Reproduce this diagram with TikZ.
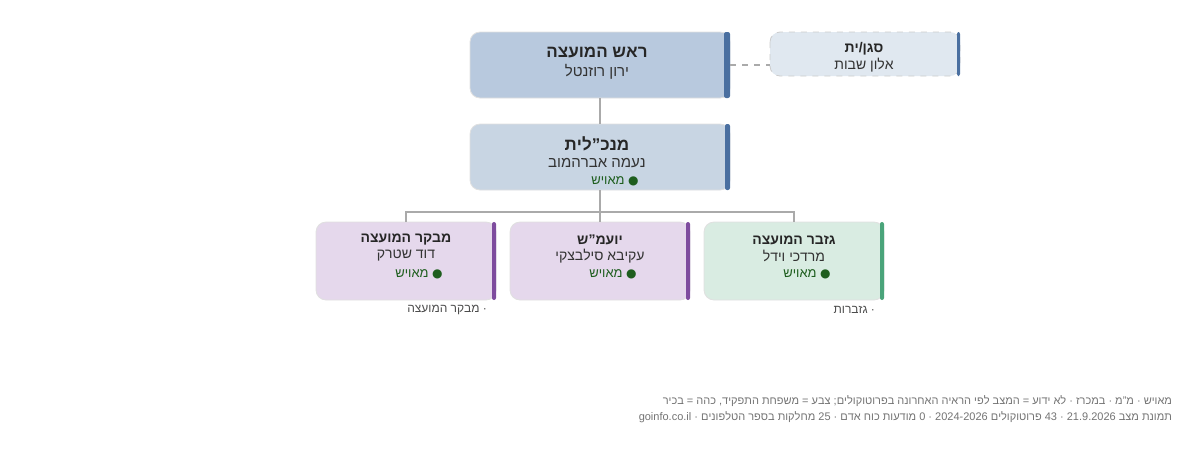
\documentclass[tikz,border=0pt]{standalone}
\usepackage{fontspec}
\setmainfont{Liberation Sans}
\newfontfamily\symfont{DejaVu Sans}
\TeXXeTstate=1
\newcommand{\heb}[1]{\beginR#1\endR}
\newcommand{\ltr}[1]{\beginL#1\endL}
\newcommand{\okdot}{{\symfont\fontsize{6}{7}\selectfont ●}}
\definecolor{headfill}{HTML}{B8C9DE}
\definecolor{ceofill}{HTML}{C8D5E3}
\definecolor{depfill}{HTML}{E0E8F0}
\definecolor{bluebar}{HTML}{4A6FA0}
\definecolor{purfill}{HTML}{E5D8EC}
\definecolor{purbar}{HTML}{7E4C9E}
\definecolor{grnfill}{HTML}{D9ECE2}
\definecolor{grnbar}{HTML}{4AA47A}
\definecolor{okgreen}{HTML}{1E5E1E}
\definecolor{linegray}{HTML}{AAAAAA}
\usetikzlibrary{positioning}
\tikzset{%
  unit/.style    = {draw=black!12, rounded corners=5pt, inner sep=0pt},%
  bar/.style     = {rounded corners=1pt},%
  roletxt/.style = {font=\bfseries\fontsize{8.5}{10}\selectfont, text=black!85},%
  persontxt/.style = {font=\fontsize{7.5}{9}\selectfont, text=black!80},%
  srole/.style   = {font=\bfseries\fontsize{7}{8}\selectfont, text=black!85},%
  sperson/.style = {font=\fontsize{7}{8}\selectfont, text=black!80},%
  status/.style  = {font=\fontsize{6.5}{8}\selectfont, text=okgreen},%
  note/.style    = {font=\fontsize{6}{7}\selectfont, text=black!70, anchor=east},%
  foot/.style    = {font=\fontsize{5.5}{7}\selectfont, text=black!55, anchor=east},%
  link/.style    = {draw=linegray, line width=0.6pt}%
}
\begin{document}
\begin{tikzpicture}[x=0.5pt,y=-0.5pt]
  \useasboundingbox (0,0) rectangle (1200,452);
  % head of council and deputy
  \draw[unit, fill=headfill] (470,32) rectangle (730,98);
  \fill[bar, bluebar] (724,32) rectangle (730,98);
  \node[roletxt] (headT) at (597,53) {\heb{ראש המועצה}};
  \node[persontxt] (headN) at (597,72) {\heb{ירון רוזנטל}};
  \coordinate (headS) at (600,98);
  \coordinate (headE) at (730,65);
  \draw[unit, dashed, draw=black!20, fill=depfill] (770,32) rectangle (960,76);
  \fill[bar, bluebar] (957,32) rectangle (960,76);
  \node[srole] (depT) at (864,49) {\heb{סגן/ית}};
  \node[sperson] (depN) at (864,65) {\heb{אלון שבות}};
  \coordinate (depW) at (770,65);
  \draw[link, dashed] (headE) -- (depW);
  % director general
  \draw[unit, fill=ceofill] (470,124) rectangle (730,190);
  \fill[bar, bluebar] (725,124) rectangle (730,190);
  \node[roletxt] (ceoT) at (597,144) {\heb{מנכ"לית}};
  \node[persontxt] (ceoN) at (597,163) {\heb{נעמה אברהמוב}};
  \node[status] (ceoS) at (615,181) {\heb{\okdot\ מאויש}};
  \coordinate (ceoN1) at (600,124);
  \coordinate (ceoS1) at (600,190);
  \draw[link] (headS) -- (ceoN1);
  % third row
  \foreach \x/\fc/\bc/\t/\n/\id in {%
      316/purfill/purbar/מבקר המועצה/דוד שטרק/aud,%
      510/purfill/purbar/יועמ"ש/עקיבא סילבצקי/law,%
      704/grnfill/grnbar/גזבר המועצה/מרדכי וידל/fin}{
    \draw[unit, fill=\fc] (\x,222) rectangle ++(180,78);
    \fill[bar, \bc] (\x+176,222) rectangle ++(4,78);
    \node[srole] (\id T) at (\x+90,240) {\heb{\t}};
    \node[sperson] (\id N) at (\x+90,256) {\heb{\n}};
    \node[status] (\id S) at (\x+103,274) {\heb{\okdot\ מאויש}};
    \coordinate (\id top) at (\x+90,222);
    \draw[link] (ceoS1) -- (600,212) -| (\id top);
  }
  \node[note] (audNote) at (494,310) {\heb{· מבקר המועצה}};
  \node[note] (finNote) at (882,310) {\heb{· גזברות}};
  % footer
  \node[foot] (foot1) at (1179,401) {\heb{מאויש · מ"מ · במכרז · לא ידוע = המצב לפי הראיה האחרונה בפרוטוקולים; צבע = משפחת התפקיד, כהה = בכיר}};
  \node[foot] (foot2) at (1179,417) {\heb{תמונת מצב \ltr{21.9.2026} · \ltr{43} פרוטוקולים \ltr{2024-2026} · \ltr{0} מודעות כוח אדם · \ltr{25} מחלקות בספר הטלפונים · \ltr{goinfo.co.il}}};
\end{tikzpicture}
\end{document}
